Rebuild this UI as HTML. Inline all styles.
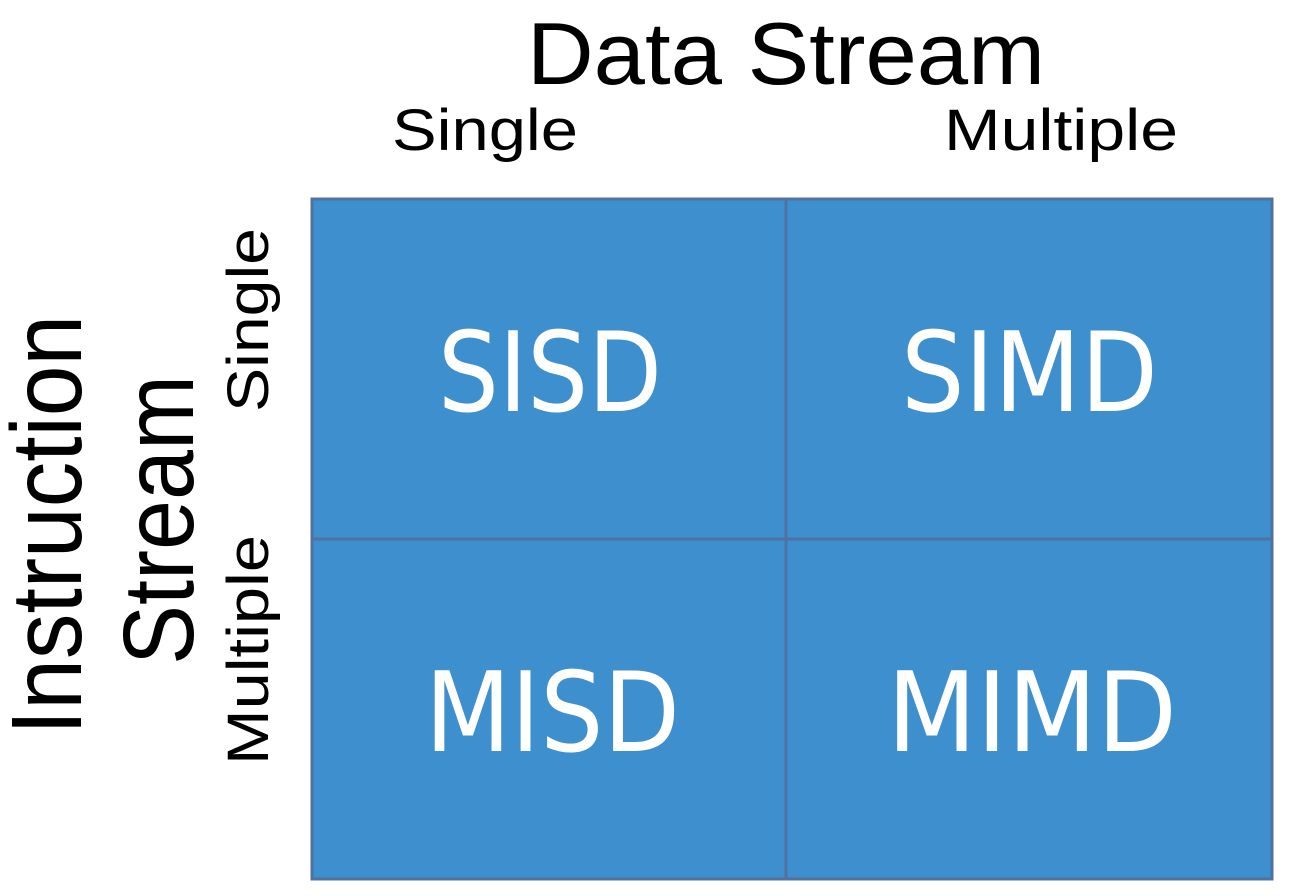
<!DOCTYPE html>
<html><head><meta charset="utf-8"><style>
html,body{margin:0;padding:0;background:#fff;width:1292px;height:896px;overflow:hidden}
svg{display:block}
.b{font-family:"Liberation Sans",sans-serif;fill:#000}
.w{font-family:"DejaVu Sans",sans-serif;fill:#fff}
</style></head><body>
<svg width="1292" height="896" viewBox="0 0 1292 896" xmlns="http://www.w3.org/2000/svg">
<rect x="312" y="199" width="960" height="680" fill="#3d8fcd" stroke="#4f72a0" stroke-width="3"/>
<line x1="786" y1="199" x2="786" y2="879" stroke="#4f72a0" stroke-width="3"/>
<line x1="312" y1="539" x2="1272" y2="539" stroke="#4f72a0" stroke-width="3"/>

<text class="b" x="527" y="84" font-size="88" textLength="518" lengthAdjust="spacingAndGlyphs">Data Stream</text>
<text class="b" x="392" y="150" font-size="58" textLength="186" lengthAdjust="spacingAndGlyphs">Single</text>
<text class="b" x="944" y="150" font-size="58" textLength="234" lengthAdjust="spacingAndGlyphs">Multiple</text>

<text class="b" transform="translate(81,735) rotate(-90)" font-size="100" textLength="420" lengthAdjust="spacingAndGlyphs">Instruction</text>
<text class="b" transform="translate(193,665) rotate(-90)" font-size="100" textLength="290" lengthAdjust="spacingAndGlyphs">Stream</text>
<text class="b" transform="translate(268,412) rotate(-90)" font-size="58" textLength="184" lengthAdjust="spacingAndGlyphs">Single</text>
<text class="b" transform="translate(268,765) rotate(-90)" font-size="58" textLength="230" lengthAdjust="spacingAndGlyphs">Multiple</text>

<text class="w" x="438" y="411" font-size="111" textLength="224" lengthAdjust="spacingAndGlyphs">SISD</text>
<text class="w" x="901" y="411" font-size="111" textLength="257" lengthAdjust="spacingAndGlyphs">SIMD</text>
<text class="w" x="425" y="751" font-size="111" textLength="255" lengthAdjust="spacingAndGlyphs">MISD</text>
<text class="w" x="887" y="751" font-size="111" textLength="290" lengthAdjust="spacingAndGlyphs">MIMD</text>
</svg>
</body></html>
